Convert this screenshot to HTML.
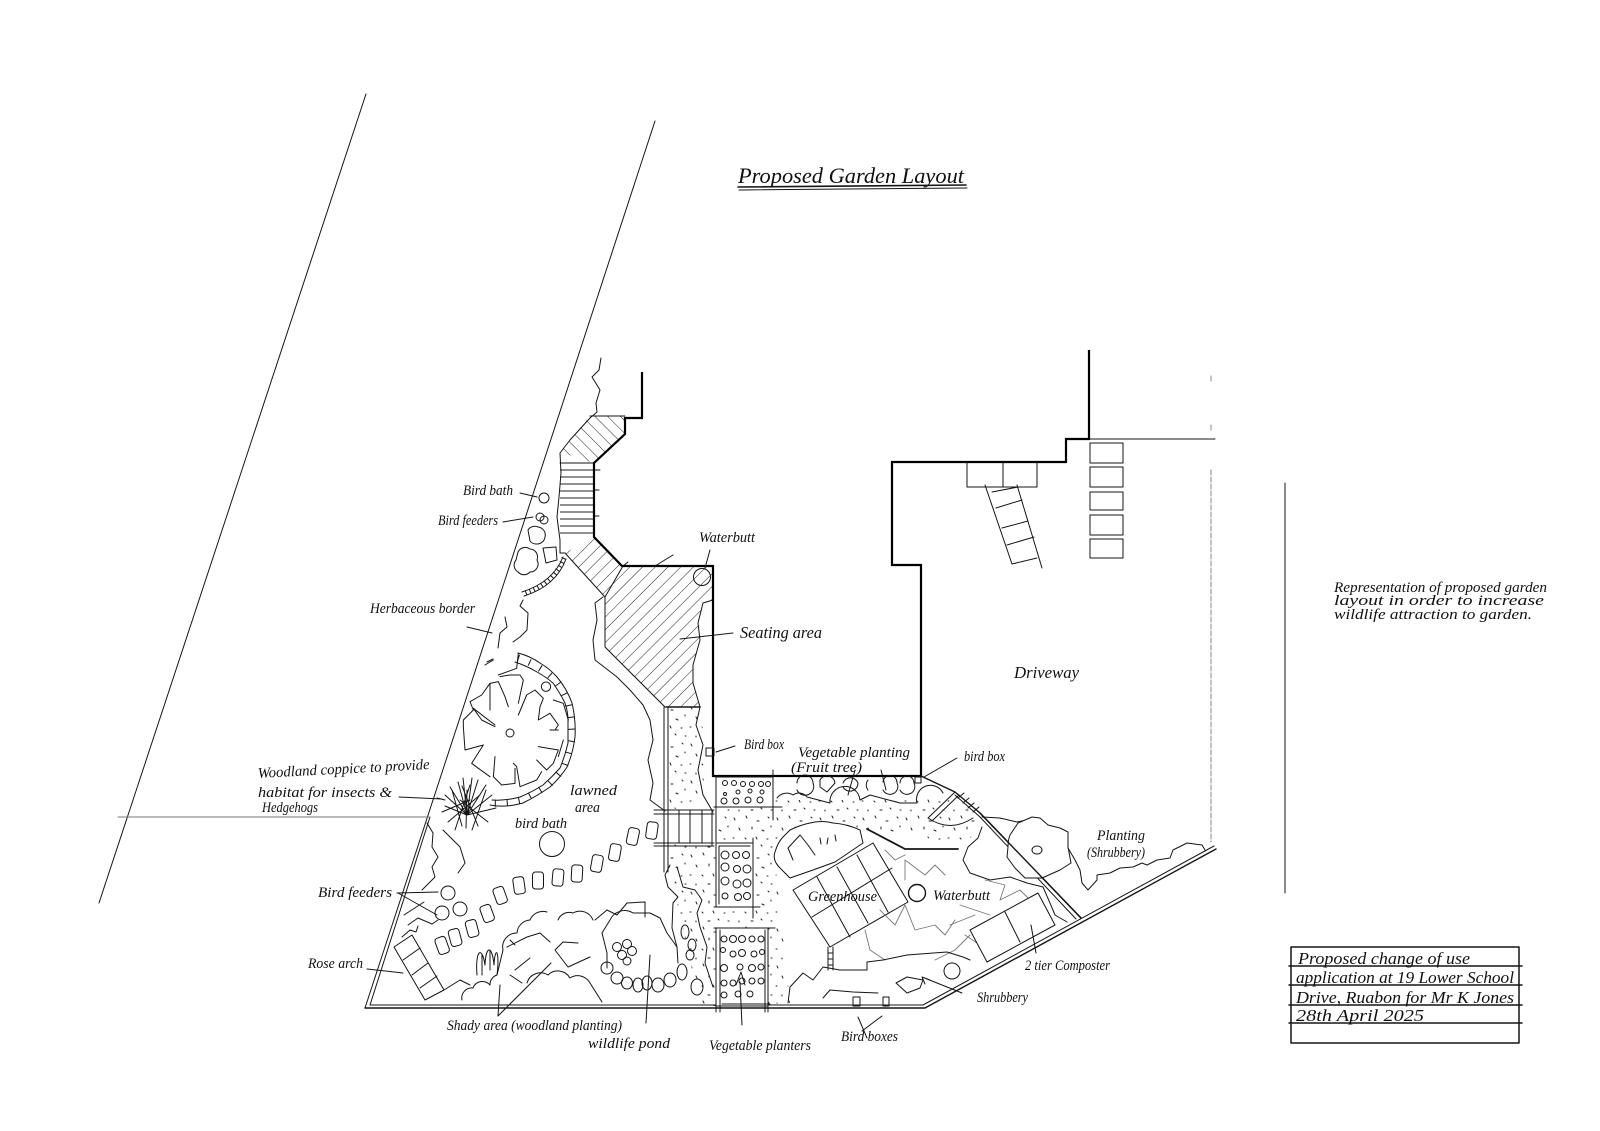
<!DOCTYPE html>
<html lang="en"><head><meta charset="utf-8"><title>Proposed Garden Layout</title>
<style>
html,body{margin:0;padding:0;background:#fff}
svg{display:block}
.l{fill:none;stroke:#151515;stroke-width:1;stroke-linecap:round;stroke-linejoin:round}
.b{fill:none;stroke:#000;stroke-width:2.2;stroke-linejoin:miter}
.w{fill:#fff;stroke:#151515;stroke-width:1;stroke-linejoin:round}
.g{fill:none;stroke:#777;stroke-width:.9;stroke-linecap:round;stroke-linejoin:round}
.n{vector-effect:non-scaling-stroke}
text{font-family:"Liberation Serif",serif;font-style:italic;fill:#111;font-size:15px}
</style></head><body>
<svg width="1600" height="1131" viewBox="0 0 1600 1131" xmlns="http://www.w3.org/2000/svg">
<defs>
<pattern id="h45" width="9" height="9" patternUnits="userSpaceOnUse" patternTransform="rotate(45)"><line x1="0" y1="0" x2="0" y2="9" stroke="#222" stroke-width="1"/></pattern>
<pattern id="h135" width="9" height="9" patternUnits="userSpaceOnUse" patternTransform="rotate(-45)"><line x1="0" y1="0" x2="0" y2="9" stroke="#222" stroke-width="1"/></pattern>
<pattern id="hh" width="10" height="7" patternUnits="userSpaceOnUse"><line x1="0" y1="1" x2="10" y2="1" stroke="#222" stroke-width="1"/></pattern>
<pattern id="dots" width="43" height="37" patternUnits="userSpaceOnUse">
<g fill="none" stroke="#222" stroke-width="1" stroke-linecap="round">
<path d="M3 4l1 2M15 2l1 2M26 7l2 0M37 3l1 1M8 14l1 2M21 13l0 2M31 16l2 1M40 12l0 1M2 24l1 0M14 24l1 1M25 23l1 2M36 25l1 0M8 33l0 1M20 33l2 0M30 31l1 1M40 33l1 0"/>
</g></pattern>
</defs>

<!-- Boundaries -->
<path class="l" d="M366 94L99 903"/>
<path class="l" d="M655 121L365 1008"/>
<path class="l" d="M430 817L370 1005"/>
<path class="g" d="M118 817H430"/>
<path class="l" style="stroke-width:1.4" d="M365 1008H925L1216 849"/>
<path class="l" d="M370 1005H923L1214 846"/>
<path class="g" d="M1211 376v5M1211 425v5M1211 470V842" stroke-dasharray="5 2"/>
<path class="l" d="M1089 439H1215"/>
<path class="l" d="M1285 483V893"/>

<!-- stipple ground -->
<path d="M668 707H702L704 800L668 811ZM668 843H716L716 810L777 800L860 800L943 794L980 815L968 845L880 830L775 860L790 1003L720 1006H700L690 960L672 880Z" fill="url(#dots)"/>

<!-- Hatched paved areas -->
<path d="M590 416H625V434L594 463L587 461L560 452L570 440Z" fill="url(#h135)"/>
<path d="M560 463H594V537H560Z" fill="url(#hh)"/>
<path d="M594 537L622 566L605 597L565 553Z" fill="url(#h45)"/>
<path d="M605 597L623 566H713V600L703 603L698 623L700 640L693 665L693 683L700 707H665L605 647Z" fill="url(#h45)"/>
<path class="l" d="M560 463H594M590 416H625M565 553L605 597V647L665 707M605 597L623 566"/>
<path class="l" d="M594 470h6M594 490h5M594 516h5M623 566l5-4M655 566l18-11"/>
<path class="l" d="M713 600L703 603L698 623L700 640L693 665L693 683L700 707"/>
<path class="l" d="M680 639L733 633"/>

<!-- Building -->
<path class="b" d="M642 372V418H625V434L594 463V537L622 566H713V776H921V565H892V462H1066V439H1089V350"/>
<circle class="l" cx="702" cy="577" r="8.500"/>
<path class="l" d="M710 550L705 568"/>

<!-- Left wiggles -->
<path class="l" d="M601 358L599 370L592 377L600 390L596 403L597 412L590 418L570 440L560 453L561 473L559 497L557 517L560 540L560 553L565 553"/>
<circle class="l" cx="544" cy="498" r="5"/>
<path class="l" d="M520 493L537 497M503 522L533 517"/>
<circle class="l" cx="540" cy="517" r="4"/><circle class="l" cx="544" cy="520" r="4"/>
<path class="l" d="M528 530A8 8 0 0 1 538 527A8 8 0 0 1 545 537A8 8 0 0 1 537 544A8 8 0 0 1 530 541Z"/>
<path class="l" d="M543 548L556 547L557 560L546 563Z"/>
<path class="l" d="M518 552A8 8 0 0 1 530 549A8 8 0 0 1 537 560A8 8 0 0 1 530 572A8 8 0 0 1 518 572A8 8 0 0 1 516 560Z"/>
<path class="l" d="M563 557Q553 582 522 592M566 559Q556 586 524 596"/>
<path class="l" style="stroke-width:5;stroke-dasharray:1 3.4;stroke-linecap:butt" d="M564 558Q554 584 523 594"/>
<path class="l" d="M523 600L520 606L528 613L527 630L520 637L513 642M505 617L507 627L500 633L498 648M467 627L492 633M487 662l6-3"/>

<!-- Plant circle -->
<path class="l" d="M518 653Q530 656 540 663Q550 669 557 677Q567 689 572 703Q576 720 575 737Q573 753 567 767Q560 778 550 787Q537 796 523 803Q505 808 490 805"/>
<path class="l" d="M515 662Q527 666 537 672Q546 677 553 683Q560 693 565 703Q568 712 568 720V743Q565 756 560 768Q552 777 543 785Q532 792 520 797Q505 801 492 800"/>
<path class="l" style="stroke-width:7;stroke-dasharray:1 11;stroke-linecap:butt" d="M518 658Q528 661 538 667Q548 673 555 680Q564 691 568 703Q572 720 572 737Q569 755 564 767Q556 778 547 786Q534 794 522 800Q505 804 490 803"/>
<circle class="l" cx="510" cy="733" r="4"/>
<g transform="translate(440 640) scale(.33333)">
<path class="l n" d="M235 40L230 85L175 105M150 210L150 130L175 125L195 170L205 200M235 190L250 120L240 105L210 105L180 110M235 225L260 165L285 150L310 175L300 200L295 240L330 220L355 255L345 270L330 270M295 320L355 330L340 370L320 390L290 360M305 395L290 420L240 440L230 380L220 370M225 385L225 430L185 435L160 410L165 350M150 410L115 385L95 370L130 315L75 330L70 260L70 240L100 210L90 185L125 165L150 130M165 255L100 205L125 240L165 260M135 75L160 60M340 180L370 190L385 240M355 350L370 300M340 270L355 270"/>
<circle class="l n" cx="318" cy="140" r="14"/>
</g>

<!-- Coppice -->
<g class="l">
<path d="M467 815L445 795M467 815L450 787M467 815L458 782M467 815L463 778M467 815L472 778M467 815L478 780M467 815L486 785M467 815L492 795M467 815L496 808M467 815L445 806M462 826L452 790M472 830L486 790M455 830L470 785M478 826L462 786M466 828L467 790M448 822L480 795M488 822L460 800M442 812L470 800M445 800l-8-2"/>
</g>
<path class="l" d="M399 797L442 799"/>

<!-- Left shrub -->
<path class="l" d="M427 823L433 833L432 847L438 857L432 867L435 877L422 890M443 830L460 847L465 863L458 873"/>
<circle class="l" cx="448" cy="893" r="7"/><circle class="l" cx="442" cy="913" r="7"/><circle class="l" cx="460" cy="909" r="7"/>
<path class="l" d="M397 893L438 892M398 893L437 915M404 915L424 902M408 925L418 918L432 924L438 920M402 937L410 930L416 932L418 926"/>

<!-- Stepping stones -->
<g class="w">
<rect x="646.500" y="822" width="11" height="17" rx="3" transform="rotate(8 652 830)"/>
<rect x="627.500" y="828" width="11" height="17" rx="3" transform="rotate(12 633 836)"/>
<rect x="609.500" y="844" width="11" height="17" rx="3" transform="rotate(10 615 852)"/>
<rect x="591.500" y="855" width="11" height="17" rx="3" transform="rotate(10 597 863)"/>
<rect x="571.500" y="865" width="11" height="17" rx="3" transform="rotate(3 577 873)"/>
<rect x="552.500" y="869" width="11" height="17" rx="3" transform="rotate(5 558 877)"/>
<rect x="532.500" y="872" width="11" height="17" rx="3" transform="rotate(0 538 880)"/>
<rect x="513.500" y="877" width="11" height="17" rx="3" transform="rotate(-8 519 885)"/>
<rect x="494.500" y="887" width="11" height="17" rx="3" transform="rotate(-20 500 895)"/>
<rect x="481.500" y="905" width="11" height="17" rx="3" transform="rotate(-20 487 913)"/>
<rect x="466.500" y="920" width="11" height="17" rx="3" transform="rotate(-15 472 928)"/>
<rect x="449.500" y="929" width="11" height="17" rx="3" transform="rotate(-15 455 937)"/>
<rect x="436.500" y="937" width="11" height="17" rx="3" transform="rotate(-20 442 945)"/>
</g>
<circle class="l" cx="552" cy="844" r="12.500"/>

<!-- Rose arch -->
<path class="l" d="M394 947L412 935L444 990L425 1000ZM403 960L420 948M412 975L428 963M420 988L437 976M444 990L460 980L470 985"/>
<path class="l" d="M367 969L403 973"/>

<!-- Woodland -->
<path class="l" d="M462 1000A10 10 0 0 1 473 988A10 10 0 0 1 490 985A10 10 0 0 1 497 975L503 950A14 14 0 0 1 517 933A14 14 0 0 1 530 920A14 14 0 0 1 547 912"/>
<path class="l" d="M558 920A12 12 0 0 1 573 913A14 14 0 0 1 593 920"/>
<path class="l" d="M602 933L610 920A16 16 0 0 1 633 913L650 913L660 918L667 933L677 947L678 963"/>
<path class="l" d="M527 983A14 14 0 0 1 548 975A14 14 0 0 1 570 978A14 14 0 0 1 590 983L602 1002"/>
<path class="l" d="M602 933L607 953L607 968M595 920L607 910L617 915L627 903L645 902L645 917"/>
<path class="l" d="M555 950L563 942L578 943M555 950L568 967L590 957M507 947L527 937L540 933L550 942M515 970L530 958M510 975l12 8"/>
<path class="l" d="M477 975C475 950 482 945 485 965C486 945 492 945 494 965C495 945 500 950 497 975M482 975V955M490 970V950"/>
<g class="l">
<ellipse cx="607" cy="968" rx="6" ry="6"/><ellipse cx="617" cy="978" rx="6" ry="6"/><ellipse cx="627" cy="983" rx="5.500" ry="6"/><ellipse cx="638" cy="985" rx="5" ry="7"/><ellipse cx="647" cy="983" rx="5" ry="7"/><ellipse cx="658" cy="985" rx="6" ry="7"/><ellipse cx="670" cy="980" rx="6" ry="7"/><ellipse cx="682" cy="972" rx="5" ry="8"/>
<circle cx="617" cy="947" r="4.500"/><circle cx="627" cy="944" r="4.500"/><circle cx="632" cy="951" r="4.500"/><circle cx="622" cy="955" r="4.500"/><circle cx="627" cy="961" r="4"/>
</g>
<path class="l" d="M650 955L646 1023M498 1016L500 985M498 1016L551 963"/>
<path class="l" d="M510 940l5 5"/>

<!-- Central path -->
<path class="l" d="M603 597L595 603L597 620L593 640L595 660L608 670L617 677L630 690L643 705L650 720L653 740L648 760L653 783L650 800L665 811"/>
<path class="l" d="M664 707V872M668 707V872"/>
<path class="l" style="stroke-width:1.6" d="M666 707H700"/>
<path class="l" d="M700 707L696 725L703 745L698 770L703 795L713 812"/>
<path class="l" d="M654 810H714M654 814H714M654 843H714M654 846H714M679 810V843M690 810V843M702 810V843M712 810V846M716 776V860"/>
<path class="l" d="M670 865L665 875L668 887L678 897L673 903L672 928L677 947M677 867L683 887L695 890L702 900L697 913L700 927L707 947L705 963L713 987"/>
<ellipse class="l" cx="697" cy="987" rx="6" ry="8"/>
<ellipse class="l" cx="685" cy="932" rx="4" ry="7"/><ellipse class="l" cx="692" cy="945" rx="4" ry="6"/><ellipse class="l" cx="690" cy="955" rx="4" ry="5"/>
<path class="l" d="M706 748h8v8h-8ZM716 752L735 746"/>

<!-- Planters -->
<path class="w" d="M716 777H773V807H716Z"/>
<path class="l" d="M773 770V820M714 807H782"/>
<g class="l">
<circle cx="725" cy="783" r="2.500"/><circle cx="734" cy="783" r="2.500"/><circle cx="743" cy="784" r="2.500"/><circle cx="752" cy="784" r="2.500"/><circle cx="761" cy="784" r="2.500"/><circle cx="768" cy="784" r="2.500"/>
<circle cx="725" cy="794" r="1.500"/><circle cx="738" cy="792" r="2"/><circle cx="750" cy="791" r="2"/><circle cx="762" cy="792" r="2"/>
<circle cx="724" cy="801" r="3"/><circle cx="736" cy="801" r="3"/><circle cx="748" cy="800" r="3"/><circle cx="760" cy="800" r="3"/>
</g>
<path class="w" d="M716 843H753V907H716Z"/>
<path class="l" d="M719 846H750M714 907H760M753 838V918M719 846V904"/>
<g class="l">
<circle cx="725" cy="855" r="4"/><circle cx="736" cy="855" r="3.500"/><circle cx="746" cy="855" r="3.500"/>
<circle cx="725" cy="867" r="4"/><circle cx="737" cy="869" r="3.500"/><circle cx="747" cy="869" r="4"/>
<circle cx="725" cy="881" r="4"/><circle cx="737" cy="884" r="4"/><circle cx="747" cy="883" r="4"/>
<circle cx="725" cy="896" r="3"/><circle cx="738" cy="897" r="3.500"/><circle cx="747" cy="896" r="3.500"/>
</g>
<path class="w" d="M716 928H768V1006H716Z"/>
<path class="l" d="M714 928H775M720 930V1012M716 928V1012M768 928V1012M765 930V1012M722 1004H770"/>
<g class="l">
<circle cx="724" cy="939" r="3"/><circle cx="733" cy="939" r="3.500"/><circle cx="742" cy="939" r="3.500"/><circle cx="752" cy="939" r="3"/><circle cx="761" cy="939" r="3"/>
<circle cx="723" cy="950" r="2.500"/><circle cx="733" cy="954" r="3"/><circle cx="742" cy="953" r="3.500"/><circle cx="754" cy="954" r="3"/><circle cx="762" cy="952" r="2.500"/>
<circle cx="724" cy="968" r="3.500"/><circle cx="740" cy="967" r="3"/><circle cx="752" cy="968" r="3.500"/><circle cx="761" cy="967" r="3"/>
<circle cx="724" cy="983" r="3"/><circle cx="733" cy="983" r="3"/><circle cx="742" cy="981" r="3"/><circle cx="752" cy="981" r="3"/><circle cx="761" cy="981" r="3"/>
<circle cx="724" cy="995" r="3"/><circle cx="738" cy="994" r="3"/><circle cx="750" cy="994" r="3"/>
</g>
<path class="l" d="M740 982L742 1025M736 985L741 972L745 985"/>

<!-- Upper right shrubs -->
<path class="l" d="M777 798A12 12 0 0 1 793 795A10 10 0 0 1 807 797L830 803A14 14 0 0 1 860 800L870 795L900 803L917 803A14 14 0 0 1 943 793"/>
<path class="l" d="M797 783A8 8 0 0 1 813 783A8 8 0 0 1 797 790M820 780A8 8 0 0 1 835 783L827 792L820 787ZM843 783A8 8 0 0 1 858 783A8 8 0 0 1 843 787M868 780A8 8 0 0 0 868 790M883 782A7 7 0 0 1 897 783A7 7 0 0 1 883 790M900 783A7 7 0 0 1 914 783A7 7 0 0 1 900 790"/>
<path class="l" d="M915 777h6v6h-6ZM924 777L957 758M848 795l7-25M886 790l-5-20"/>
<path class="l" style="stroke-width:1.4" d="M921 776L955 792L980 813L1081 918"/>
<path class="l" d="M955 795L980 817L1076 919M955 792L928 818M959 795L932 821M928 818Q950 833 973 818"/>
<path class="l" d="M958 798l6-5M963 803l6-5M968 808l6-5M973 812l6-5M982 817L1000 818L1017 822L1027 820"/>

<!-- Greenhouse shrub -->
<path class="w" d="M775 852Q778 842 783 837L790 830Q800 825 810 823Q822 820 833 823Q847 824 860 830L863 843L835 862L813 870L790 878L780 868Q772 860 775 852Z"/>
<path class="l" d="M793 860L788 848L800 835L808 845L815 855M820 838l1 6M828 838l-1 6M835 835l1 6"/>
<path class="l" style="stroke-width:1.8" d="M867 829L905 849H958"/>
<path class="w" d="M793 890L873 843L908 902L830 947Z"/>
<path class="l" d="M812 917L892 868M817 877L850 937M837 867L868 923M857 855L888 912"/>
<path class="l" d="M828 947V970M833 947V970M828 953h5M828 959h5M828 965h5"/>
<circle class="l" cx="917" cy="893" r="8.500" style="stroke-width:1.4"/>
<path class="l" d="M982 827L978 838L968 847L963 860L970 873L990 880L1010 877L1027 883L1043 887L1050 903L1055 915L1067 922"/>

<!-- Grey scribbles -->
<path class="g" d="M885 850L895 860L905 855M905 880L905 860L925 875L935 865L945 875M880 910L895 925L905 905L915 930L935 925L945 935L955 920M865 930L870 950L885 960M985 880L1005 885L1000 900L1020 890L1030 900M960 905L990 915M950 925L975 915M935 960L955 950L970 935M980 945L965 935"/>

<!-- Composter -->
<path class="w" d="M970 930L1038 893L1055 925L987 962Z"/>
<path class="l" d="M1005 912L1020 942M1031 925L1036 953"/>

<!-- Lower shrubs -->
<path class="l" d="M788 1003L790 987L803 973L813 980L823 967L840 970L867 970L867 962L883 960L907 955L947 952L963 957L970 960"/>
<path class="l" d="M823 998L830 990L853 992L878 993"/>
<circle class="l" cx="952" cy="971" r="8"/>
<path class="l" d="M896 983L907 977L923 980L920 988L907 993ZM922 977L962 993M922 977l8 3M922 977l3 7"/>
<path class="l" d="M853 997h7v9h-7ZM883 997h6v9h-6ZM858 1017L867 1038M882 1016L862 1031"/>

<!-- Big shrub -->
<path class="w" d="M1008 847Q1008 840 1010 835L1018 823L1032 817L1040 818L1048 825L1060 828L1068 832L1068 847L1071 863L1060 870L1042 878H1025L1015 868L1007 857Z"/>
<path class="l" style="stroke-width:1.4" d="M980 813L1081 918"/>
<ellipse class="l" cx="1037" cy="850" rx="5" ry="4"/>
<path class="l" d="M1068 848L1075 860L1080 870L1082 883L1088 890L1097 880L1097 875L1110 873L1120 868L1133 867L1142 863L1147 865L1157 860L1170 858L1173 850L1187 843L1202 845L1205 850"/>

<!-- Front steps -->
<g class="l">
<rect x="1090" y="443" width="33" height="20"/><rect x="1090" y="467" width="33" height="20"/><rect x="1090" y="492" width="33" height="18"/><rect x="1090" y="515" width="33" height="20"/><rect x="1090" y="539" width="33" height="19"/>
<path d="M967 462V487H1037V462M1003 462V487M985 485L1012 564M1017 485L1042 568M992 492L1018 487M996 508L1022 500M1002 528L1028 521M1007 545L1034 537M1012 564L1037 558"/>
</g>

<!-- Title -->
<path class="l" style="stroke-width:1.6" d="M738 187L966 185"/>
<path class="l" d="M739 190L967 188"/>
<text x="738" y="183" textLength="226" lengthAdjust="spacingAndGlyphs" style="font-size:22px">Proposed Garden Layout</text>

<!-- Labels -->
<g>
<text x="463" y="495" textLength="50" lengthAdjust="spacingAndGlyphs">Bird bath</text>
<text x="438" y="525" textLength="60" lengthAdjust="spacingAndGlyphs">Bird feeders</text>
<text x="699" y="542" textLength="56" lengthAdjust="spacingAndGlyphs">Waterbutt</text>
<text x="370" y="613" textLength="105" lengthAdjust="spacingAndGlyphs">Herbaceous border</text>
<text x="740" y="638" textLength="82" lengthAdjust="spacingAndGlyphs" style="font-size:17px">Seating area</text>
<text x="1014" y="678" textLength="65" lengthAdjust="spacingAndGlyphs" style="font-size:17px">Driveway</text>
<text x="744" y="749" textLength="40" lengthAdjust="spacingAndGlyphs">Bird box</text>
<text x="798" y="757" textLength="112" lengthAdjust="spacingAndGlyphs">Vegetable planting</text>
<text x="791" y="772" textLength="71" lengthAdjust="spacingAndGlyphs">(Fruit tree)</text>
<text x="964" y="761" textLength="41" lengthAdjust="spacingAndGlyphs">bird box</text>
<text x="258" y="778" textLength="172" lengthAdjust="spacingAndGlyphs" transform="rotate(-3 258 778)">Woodland coppice to provide</text>
<text x="258" y="797" textLength="134" lengthAdjust="spacingAndGlyphs">habitat for insects &amp;</text>
<text x="262" y="812" textLength="56" lengthAdjust="spacingAndGlyphs">Hedgehogs</text>
<text x="570" y="795" textLength="47" lengthAdjust="spacingAndGlyphs">lawned</text>
<text x="575" y="812" textLength="25" lengthAdjust="spacingAndGlyphs">area</text>
<text x="515" y="828" textLength="52" lengthAdjust="spacingAndGlyphs">bird bath</text>
<text x="318" y="897" textLength="74" lengthAdjust="spacingAndGlyphs">Bird feeders</text>
<text x="308" y="968" textLength="55" lengthAdjust="spacingAndGlyphs">Rose arch</text>
<text x="447" y="1030" textLength="175" lengthAdjust="spacingAndGlyphs">Shady area (woodland planting)</text>
<text x="588" y="1048" textLength="82" lengthAdjust="spacingAndGlyphs">wildlife pond</text>
<text x="709" y="1050" textLength="102" lengthAdjust="spacingAndGlyphs">Vegetable planters</text>
<text x="841" y="1041" textLength="57" lengthAdjust="spacingAndGlyphs">Bird boxes</text>
<text x="808" y="901" textLength="69" lengthAdjust="spacingAndGlyphs">Greenhouse</text>
<text x="933" y="900" textLength="57" lengthAdjust="spacingAndGlyphs">Waterbutt</text>
<text x="1025" y="970" textLength="85" lengthAdjust="spacingAndGlyphs">2 tier Composter</text>
<text x="977" y="1002" textLength="51" lengthAdjust="spacingAndGlyphs">Shrubbery</text>
<text x="1097" y="840" textLength="48" lengthAdjust="spacingAndGlyphs">Planting</text>
<text x="1087" y="857" textLength="58" lengthAdjust="spacingAndGlyphs">(Shrubbery)</text>
<text x="1334" y="592" textLength="213" lengthAdjust="spacingAndGlyphs">Representation of proposed garden</text>
<text x="1334" y="605" textLength="210" lengthAdjust="spacingAndGlyphs">layout in order to increase</text>
<text x="1334" y="619" textLength="198" lengthAdjust="spacingAndGlyphs">wildlife attraction to garden.</text>
</g>

<!-- Title block -->
<path class="l" style="stroke-width:1.500" d="M1291 947H1519V1043H1291ZM1289 966H1522M1289 985H1522M1289 1005H1522M1289 1023H1522"/>
<text x="1298" y="964" textLength="172" lengthAdjust="spacingAndGlyphs" style="font-size:17px">Proposed change of use</text>
<text x="1296" y="983" textLength="218" lengthAdjust="spacingAndGlyphs" style="font-size:17px">application at 19 Lower School</text>
<text x="1296" y="1003" textLength="218" lengthAdjust="spacingAndGlyphs" style="font-size:17px">Drive, Ruabon  for Mr K Jones</text>
<text x="1296" y="1021" textLength="128" lengthAdjust="spacingAndGlyphs" style="font-size:17px">28th April 2025</text>
</svg>
</body></html>
